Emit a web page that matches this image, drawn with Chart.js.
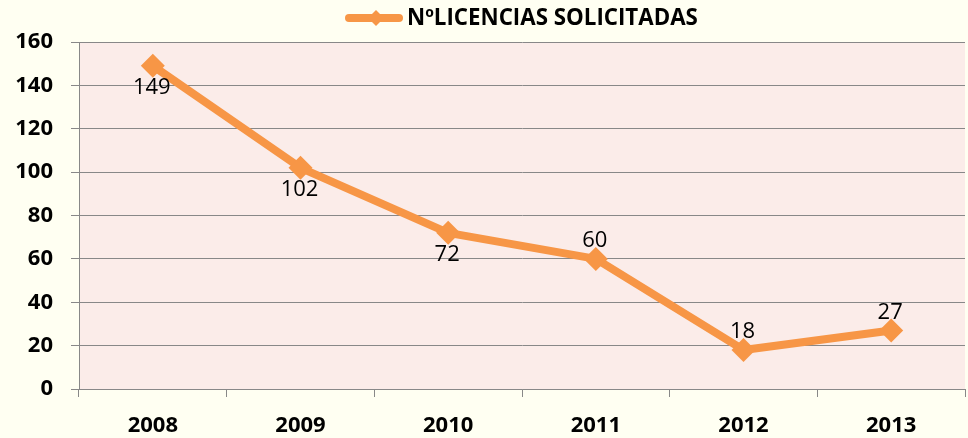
<!DOCTYPE html>
<html><head><meta charset="utf-8">
<script src="https://cdn.jsdelivr.net/npm/chart.js@4/dist/chart.umd.min.js"></script>
<style>html,body{margin:0;padding:0;background:#FFFFF2;}#wrap{width:968px;height:438px;}</style>
</head><body><div id="wrap"><canvas id="c" width="968" height="438"></canvas></div>
<script>
const categories = ['2008','2009','2010','2011','2012','2013'];
const licencias = [149, 102, 72, 60, 18, 27];
const seriesName = 'NºLICENCIAS SOLICITADAS';
const yTicks = [0,20,40,60,80,100,120,140,160];
const labelSide = ['below','below','below','above','above','above'];

const ORANGE = '#F79646';
const FONT = '"Open Sans", "Liberation Sans", sans-serif';

const bgPlugin = {
  id: 'bg',
  beforeDraw(chart) {
    const {ctx, chartArea: a} = chart;
    ctx.save();
    ctx.fillStyle = '#FFFFF2';
    ctx.fillRect(0, 0, chart.width, chart.height);
    ctx.fillStyle = '#FBECE9';
    ctx.fillRect(a.left, a.top, a.right - a.left, a.bottom - a.top);
    ctx.restore();
  }
};

const labelPlugin = {
  id: 'vals',
  afterDatasetsDraw(chart) {
    const {ctx} = chart;
    const meta = chart.getDatasetMeta(0);
    ctx.save();
    ctx.font = '22px ' + FONT;
    ctx.fillStyle = '#000';
    ctx.textAlign = 'center';
    ctx.textBaseline = 'middle';
    meta.data.forEach((pt, i) => {
      const dy = labelSide[i] === 'below' ? 22 : -18;
      ctx.fillText(String(licencias[i]), pt.x - 1, pt.y + dy);
    });
    ctx.restore();
  }
};

const legendPlugin = {
  id: 'customLegend',
  afterDraw(chart) {
    const {ctx} = chart;
    ctx.save();
    ctx.font = 'bold 20px ' + FONT;
    const w20 = ctx.measureText(seriesName).width;
    const size = Math.min(24, 20 * 291 / w20);
    ctx.font = 'bold ' + size + 'px ' + FONT;
    const x0 = 345, y = 18;
    ctx.strokeStyle = ORANGE;
    ctx.lineWidth = 8;
    ctx.lineCap = 'round';
    ctx.beginPath(); ctx.moveTo(x0 + 4, y); ctx.lineTo(x0 + 54, y); ctx.stroke();
    ctx.fillStyle = ORANGE;
    const mx = 376, r = 8;
    ctx.beginPath(); ctx.moveTo(mx, y - r); ctx.lineTo(mx + r, y); ctx.lineTo(mx, y + r); ctx.lineTo(mx - r, y); ctx.closePath(); ctx.fill();
    ctx.fillStyle = '#000';
    ctx.textAlign = 'left';
    ctx.textBaseline = 'middle';
    ctx.fillText(seriesName, 407, y + 1);
    ctx.restore();
  }
};

new Chart(document.getElementById('c'), {
  type: 'line',
  data: {
    labels: categories,
    datasets: [{
      label: seriesName,
      data: licencias,
      borderColor: ORANGE,
      backgroundColor: ORANGE,
      borderWidth: 8,
      pointStyle: 'rectRot',
      pointRadius: 12,
      pointHoverRadius: 12,
      pointBackgroundColor: ORANGE,
      pointBorderColor: ORANGE,
      pointBorderWidth: 0,
      tension: 0,
      borderJoinStyle: 'round',
      clip: false
    }]
  },
  options: {
    responsive: false,
    animation: false,
    devicePixelRatio: 1,
    layout: { autoPadding: false, padding: { top: 42, right: 3, left: 0, bottom: 0 } },
    plugins: { legend: { display: false }, tooltip: { enabled: false } },
    scales: {
      x: {
        offset: true,
        grid: { offset: true, drawOnChartArea: false, drawTicks: true, tickLength: 8, color: '#888' },
        border: { color: '#888', width: 1 },
        ticks: { color: '#000', font: { family: FONT, weight: 'bold', size: 22 }, padding: 16 },
        afterFit(s) { s.height = 49; s.paddingLeft = 0; s.paddingRight = 0; }
      },
      y: {
        min: 0, max: 160,
        afterBuildTicks(s) { s.ticks = yTicks.map(v => ({value: v})); },
        grid: { color: '#888', tickLength: 8, drawTicks: true },
        border: { color: '#888', width: 1 },
        ticks: { color: '#000', font: { family: FONT, weight: 'bold', size: 22 }, padding: 18 },
        afterFit(s) { s.width = 79; }
      }
    }
  },
  plugins: [bgPlugin, labelPlugin, legendPlugin]
});
</script></body></html>
